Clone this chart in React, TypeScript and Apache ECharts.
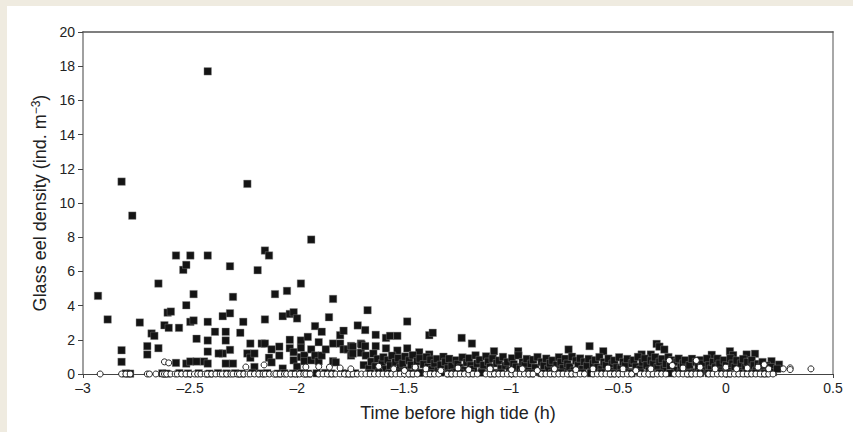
import React, { useEffect, useRef } from "react";
import * as echarts from "echarts";

// Filled squares: sparse upper points
const squaresSparse: [number, number][] = [
  [-2.93, 4.57], [-2.885, 3.19], [-2.82, 11.25], [-2.82, 1.39], [-2.82, 0.71],
  [-2.77, 9.26], [-2.735, 3.01], [-2.70, 1.63], [-2.70, 1.14], [-2.68, 2.37],
  [-2.667, 2.23], [-2.648, 5.29], [-2.648, 1.51], [-2.62, 2.85], [-2.605, 3.59],
  [-2.59, 3.65], [-2.60, 2.70], [-2.566, 6.93], [-2.566, 0.65], [-2.552, 2.70],
  [-2.532, 6.09], [-2.518, 6.38], [-2.518, 4.02], [-2.518, 0.61], [-2.499, 6.93],
  [-2.499, 3.05], [-2.499, 0.73], [-2.484, 4.67], [-2.484, 3.13], [-2.47, 2.06],
  [-2.47, 0.73], [-2.435, 0.73], [-2.418, 17.7], [-2.418, 6.93], [-2.418, 3.05],
  [-2.418, 1.96], [-2.418, 1.31], [-2.418, 0.61], [-2.384, 2.47], [-2.348, 3.38],
  [-2.348, 1.2], [-2.367, 1.2], [-2.334, 2.47], [-2.334, 1.96], [-2.334, 0.61],
  [-2.314, 6.30], [-2.314, 3.55], [-2.314, 1.41], [-2.30, 4.51], [-2.30, 0.61],
  [-2.266, 2.41], [-2.252, 3.05], [-2.233, 11.12], [-2.233, 1.2], [-2.219, 1.78],
  [-2.219, 0.95], [-2.20, 1.2], [-2.20, 0.41], [-2.185, 6.07], [-2.166, 1.78],
  [-2.151, 7.22], [-2.151, 3.19], [-2.151, 1.78], [-2.132, 6.93], [-2.132, 0.95],
  [-2.12, 1.44], [-2.12, 0.68], [-2.104, 4.67], [-2.084, 1.6], [-2.084, 1.08],
  [-2.068, 3.38], [-2.068, 0.32], [-2.048, 4.86], [-2.035, 3.51], [-2.035, 2.0],
  [-2.035, 1.51], [-2.017, 3.61], [-2.017, 1.28], [-2.017, 0.8], [-2.001, 3.25],
  [-2.001, 0.42], [-1.983, 5.29], [-1.983, 1.96], [-1.983, 1.53], [-1.983, 0.99],
  [-1.967, 1.08], [-1.967, 0.75], [-1.951, 2.17], [-1.935, 7.86], [-1.935, 1.44],
  [-1.935, 0.8], [-1.917, 2.80], [-1.917, 1.08], [-1.90, 1.86], [-1.90, 0.75],
  [-1.886, 2.47], [-1.886, 1.08], [-1.867, 1.44], [-1.852, 3.32], [-1.833, 4.39],
  [-1.833, 1.78], [-1.833, 0.75], [-1.82, 0.68], [-1.80, 2.27], [-1.80, 1.78],
  [-1.784, 2.53], [-1.784, 1.44], [-1.765, 1.44], [-1.749, 1.64], [-1.749, 1.08],
  [-1.718, 2.84], [-1.703, 1.78], [-1.683, 2.57], [-1.672, 3.73], [-1.703, 1.24],
  [-1.634, 2.29], [-1.586, 2.11], [-1.567, 2.23], [-1.533, 2.23], [-1.487, 3.07],
  [-1.634, 1.63], [-1.70, 1.72], [-1.683, 1.63], [-1.741, 1.6], [-1.741, 1.2],
  [-1.586, 1.5], [-1.533, 1.37], [-1.487, 1.5], [-1.431, 1.27], [-1.384, 2.27],
  [-1.368, 2.41], [-1.384, 1.14], [-1.233, 2.11], [-1.185, 1.78], [-1.082, 1.33],
  [-0.969, 1.33], [-0.734, 1.43], [-0.636, 1.63], [-0.572, 1.33], [-0.323, 1.76],
  [-0.31, 1.6], [-0.287, 1.43], [-0.393, 1.14], [-0.35, 1.14], [-0.066, 1.12],
  [0.019, 1.33], [0.034, 1.1], [0.097, 1.14], [0.136, 1.18], [0.213, 0.75],
  [0.248, 0.55],
];

// Filled squares: dense low band, estimated
const squaresDense: [number, number][] = [
  [-2.80, 0.03], [-2.78, 0.02], [-2.63, 0.04], [-2.61, 0.02], [-2.55, 0.05], [-2.51, 0.03],
  [-2.46, 0.04], [-2.41, 0.02], [-2.37, 0.05], [-2.33, 0.03], [-2.29, 0.04], [-2.26, 0.02],
  [-2.21, 0.06], [-2.17, 0.03], [-2.14, 0.05], [-2.09, 0.02], [-2.06, 0.04], [-2.02, 0.03],
  [-1.98, 0.05], [-1.95, 0.02], [-1.91, 0.04], [-1.87, 0.06], [-1.84, 0.03], [-1.79, 0.05],
  [-1.76, 0.02], [-1.73, 0.04], [-1.69, 0.52], [-1.68, 1.08], [-1.665, 0.31], [-1.655, 0.72],
  [-1.645, 1.19], [-1.635, 0.44], [-1.625, 0.88], [-1.612, 0.12], [-1.604, 0.63], [-1.598, 0.98],
  [-1.588, 0.27], [-1.577, 0.81], [-1.566, 0.49], [-1.558, 1.07], [-1.548, 0.18], [-1.541, 0.69],
  [-1.528, 0.93], [-1.519, 0.38], [-1.508, 0.61], [-1.497, 1.02], [-1.489, 0.22], [-1.478, 0.79],
  [-1.469, 0.52], [-1.461, 1.1], [-1.449, 0.29], [-1.44, 0.74], [-1.428, 0.91], [-1.421, 0.08],
  [-1.41, 0.57], [-1.397, 0.99], [-1.389, 0.41], [-1.378, 0.83], [-1.371, 0.27], [-1.359, 0.62],
  [-1.348, 0.88], [-1.341, 0.19], [-1.33, 0.53], [-1.318, 1.01], [-1.309, 0.71], [-1.297, 0.32],
  [-1.291, 0.89], [-1.279, 0.47], [-1.268, 0.09], [-1.259, 0.8], [-1.251, 0.58], [-1.238, 0.37],
  [-1.229, 0.97], [-1.218, 0.21], [-1.209, 0.68], [-1.198, 0.92], [-1.19, 0.49], [-1.178, 0.28],
  [-1.168, 1.09], [-1.16, 0.61], [-1.149, 0.82], [-1.138, 0.17], [-1.13, 0.51], [-1.119, 1.03],
  [-1.109, 0.72], [-1.1, 0.39], [-1.088, 0.9], [-1.079, 0.07], [-1.069, 0.63], [-1.058, 0.79],
  [-1.049, 0.31], [-1.04, 1.0], [-1.028, 0.48], [-1.019, 0.7], [-1.009, 0.19], [-0.998, 0.92],
  [-0.99, 0.57], [-0.979, 0.41], [-0.968, 1.08], [-0.96, 0.3], [-0.948, 0.69], [-0.938, 0.52],
  [-0.929, 0.88], [-0.92, 0.18], [-0.909, 0.6], [-0.899, 0.83], [-0.889, 0.37], [-0.879, 0.99],
  [-0.868, 0.1], [-0.86, 0.7], [-0.849, 0.48], [-0.838, 0.9], [-0.829, 0.29], [-0.82, 0.63],
  [-0.809, 0.79], [-0.799, 0.21], [-0.789, 0.52], [-0.779, 0.98], [-0.77, 0.68], [-0.76, 0.33],
  [-0.749, 0.89], [-0.739, 0.6], [-0.729, 0.41], [-0.718, 1.01], [-0.709, 0.19], [-0.699, 0.78],
  [-0.689, 0.5], [-0.68, 0.91], [-0.669, 0.28], [-0.66, 0.71], [-0.648, 0.47], [-0.64, 0.88],
  [-0.628, 0.11], [-0.619, 0.61], [-0.609, 0.81], [-0.598, 0.39], [-0.59, 0.99], [-0.58, 0.29],
  [-0.569, 0.69], [-0.559, 0.51], [-0.548, 0.9], [-0.538, 0.2], [-0.529, 0.6], [-0.52, 0.79],
  [-0.509, 0.38], [-0.498, 0.98], [-0.49, 0.31], [-0.479, 0.7], [-0.469, 0.49], [-0.46, 0.88],
  [-0.449, 0.12], [-0.438, 0.62], [-0.43, 0.8], [-0.419, 0.42], [-0.41, 1.0], [-0.398, 0.28],
  [-0.389, 0.68], [-0.378, 0.9], [-0.369, 0.5], [-0.358, 0.18], [-0.349, 0.79], [-0.338, 0.59],
  [-0.33, 0.98], [-0.318, 0.4], [-0.309, 0.71], [-0.298, 0.88], [-0.289, 0.31], [-0.279, 0.6],
  [-0.268, 0.99], [-0.259, 0.48], [-0.249, 0.8], [-0.239, 0.22], [-0.228, 0.7], [-0.22, 0.9],
  [-0.209, 0.39], [-0.199, 0.61], [-0.19, 0.8], [-0.179, 0.29], [-0.169, 0.51], [-0.158, 0.89],
  [-0.149, 0.11], [-0.139, 0.7], [-0.128, 0.4], [-0.119, 0.81], [-0.109, 0.59], [-0.099, 0.2],
  [-0.088, 0.9], [-0.079, 0.5], [-0.069, 0.31], [-0.059, 0.7], [-0.049, 0.38], [-0.039, 0.9],
  [-0.029, 0.6], [-0.019, 0.19], [-0.009, 0.8], [0.002, 0.5], [0.011, 0.29], [0.021, 0.91],
  [0.031, 0.6], [0.042, 0.41], [0.051, 0.79], [0.062, 0.2], [0.071, 0.61], [0.081, 0.88],
  [0.092, 0.39], [0.101, 0.7], [0.112, 0.3], [0.121, 0.8], [0.131, 0.5], [0.142, 0.19],
  [0.151, 0.59], [0.162, 0.41], [0.171, 0.7], [0.181, 0.28], [0.191, 0.49], [0.2, 0.2],
  [0.211, 0.4], [0.22, 0.1], [0.24, 0.3],
  [-1.66, 0.05], [-1.62, 0.08], [-1.57, 0.04], [-1.52, 0.07], [-1.47, 0.03], [-1.43, 0.06],
  [-1.38, 0.04], [-1.33, 0.08], [-1.29, 0.03], [-1.24, 0.06], [-1.19, 0.04], [-1.14, 0.07],
  [-1.09, 0.03], [-1.05, 0.06], [-1.0, 0.04], [-0.95, 0.07], [-0.91, 0.03], [-0.86, 0.05],
  [-0.81, 0.04], [-0.77, 0.07], [-0.72, 0.03], [-0.67, 0.06], [-0.63, 0.04], [-0.58, 0.07],
  [-0.53, 0.03], [-0.49, 0.05], [-0.44, 0.04], [-0.4, 0.07], [-0.35, 0.03], [-0.31, 0.06],
  [-0.26, 0.04], [-0.21, 0.07], [-0.17, 0.03], [-0.12, 0.05], [-0.08, 0.04], [-0.03, 0.06],
  [0.01, 0.03], [0.06, 0.05], [0.1, 0.04], [0.14, 0.06], [0.18, 0.03],
];

// Open circles lying on zero
const circlesZeroX: number[] = [
  -2.92, -2.82, -2.80, -2.78, -2.70, -2.69, -2.66, -2.63, -2.62, -2.61, -2.59, -2.57, -2.56,
  -2.54, -2.52, -2.50, -2.48, -2.465, -2.45, -2.43, -2.42, -2.40, -2.38, -2.36, -2.35, -2.33,
  -2.31, -2.30, -2.28, -2.27, -2.25, -2.23, -2.22, -2.20, -2.18, -2.16, -2.15, -2.13, -2.11,
  -2.10, -2.08, -2.06, -2.05, -2.03, -2.01, -1.99, -1.97, -1.96, -1.94, -1.90, -1.88, -1.86,
  -1.84, -1.82, -1.80, -1.78, -1.76, -1.74, -1.72, -1.70, -1.68, -1.66, -1.64, -1.62, -1.60,
  -1.58, -1.56, -1.54, -1.52, -1.50, -1.48, -1.46, -1.44, -1.40, -1.38, -1.36, -1.34, -1.30,
  -1.28, -1.26, -1.24, -1.22, -1.20, -1.18, -1.16, -1.12, -1.10, -1.08, -1.06, -1.04, -1.02,
  -1.00, -0.98, -0.96, -0.94, -0.92, -0.90, -0.86, -0.84, -0.82, -0.80, -0.78, -0.76, -0.74,
  -0.72, -0.70, -0.68, -0.66, -0.62, -0.60, -0.58, -0.56, -0.54, -0.52, -0.50, -0.48, -0.46,
  -0.44, -0.40, -0.38, -0.36, -0.34, -0.32, -0.30, -0.28, -0.24, -0.22, -0.20, -0.18, -0.16,
  -0.14, -0.12, -0.08, -0.06, -0.04, -0.02, 0.00, 0.02, 0.04, 0.06, 0.08, 0.10, 0.12, 0.14,
  0.16, 0.18, 0.20, 0.22,
];

// Open circles above zero
const circlesAbove: [number, number][] = [
  [-2.62, 0.71], [-2.60, 0.65], [-2.24, 0.41], [-2.155, 0.53], [-1.96, 0.41], [-1.90, 0.43],
  [-1.85, 0.4], [-1.80, 0.35], [-1.75, 0.3], [-1.62, 0.45], [-1.55, 0.3], [-1.5, 0.2],
  [-1.45, 0.4], [-1.40, 0.3], [-1.33, 0.2], [-1.25, 0.35], [-1.2, 0.25], [-1.1, 0.3],
  [-1.0, 0.25], [-0.95, 0.3], [-0.88, 0.2], [-0.8, 0.3], [-0.7, 0.25], [-0.62, 0.3],
  [-0.55, 0.35], [-0.48, 0.3], [-0.42, 0.2], [-0.35, 0.3], [-0.264, 0.79], [-0.25, 0.5],
  [-0.2, 0.35], [-0.138, 0.79], [-0.12, 0.4], [-0.05, 0.3], [0.0, 0.4], [0.05, 0.3],
  [0.1, 0.35], [0.15, 0.4], [0.179, 0.55], [0.2, 0.3], [0.268, 0.3], [0.30, 0.36],
  [0.30, 0.26], [0.397, 0.3],
];

const xName = "Time before high tide (h)";
const yName = "Glass eel density (ind. m{sup|−3})";

export default function App() {
  const ref = useRef<HTMLDivElement>(null);
  useEffect(() => {
    document.body.style.margin = "0";
    if (!ref.current) return;
    const chart = echarts.init(ref.current, undefined, { renderer: "svg" });
    const font = "Liberation Sans, Arial, Helvetica, sans-serif";
    chart.setOption({
      animation: false,
      backgroundColor: "#ffffff",
      textStyle: { fontFamily: font },
      grid: { left: 76, right: 20, top: 26, bottom: 58 },
      xAxis: [
        {
          type: "value",
          min: -3,
          max: 0.5,
          interval: 0.5,
          name: xName,
          nameLocation: "middle",
          nameGap: 30,
          nameTextStyle: { fontSize: 18, color: "#222", fontFamily: font },
          axisLine: { show: true, onZero: false, lineStyle: { color: "#444", width: 1 } },
          axisTick: { show: true, inside: false, length: 4, lineStyle: { color: "#444" } },
          axisLabel: {
            fontSize: 14,
            color: "#222",
            margin: 7,
            formatter: (v: number) => (v < 0 ? "–" + Math.abs(v) : String(v)),
          },
          splitLine: { show: false },
        },
        {
          type: "value",
          position: "top",
          min: -3,
          max: 0.5,
          axisLine: { show: true, onZero: false, lineStyle: { color: "#555", width: 1.5 } },
          axisTick: { show: false },
          axisLabel: { show: false },
          splitLine: { show: false },
        },
      ],
      yAxis: [
        {
          type: "value",
          min: 0,
          max: 20,
          interval: 2,
          name: yName,
          nameLocation: "middle",
          nameGap: 32,
          nameTextStyle: {
            fontSize: 18,
            color: "#222",
            fontFamily: font,
            rich: { sup: { fontSize: 12, verticalAlign: "top", color: "#222", padding: [0, 0, 8, 0] } },
          },
          axisLine: { show: true, onZero: false, lineStyle: { color: "#a0a0a0", width: 2 } },
          axisTick: { show: true, inside: false, length: 5, lineStyle: { color: "#444" } },
          axisLabel: { fontSize: 14, color: "#222", margin: 8 },
          splitLine: { show: false },
        },
        {
          type: "value",
          position: "right",
          min: 0,
          max: 20,
          axisLine: { show: true, onZero: false, lineStyle: { color: "#a8a8a8", width: 2 } },
          axisTick: { show: false },
          axisLabel: { show: false },
          splitLine: { show: false },
        },
      ],
      series: [
        {
          type: "scatter",
          name: "squares",
          symbol: "rect",
          symbolSize: 7.5,
          data: [...squaresSparse, ...squaresDense],
          itemStyle: { color: "#141414", borderColor: "#8a8a8a", borderWidth: 0.4, opacity: 1 },
          z: 2,
        },
        {
          type: "scatter",
          name: "circles",
          symbol: "circle",
          symbolSize: 6,
          data: [...circlesZeroX.map((x) => [x, 0]), ...circlesAbove],
          itemStyle: { color: "#ffffff", borderColor: "#222", borderWidth: 1, opacity: 1 },
          z: 3,
        },
      ],
    });
    return () => chart.dispose();
  }, []);
  return (
    <div style={{ position: "relative", width: 853, height: 432, background: "#efebe0" }}>
      <div
        ref={ref}
        style={{ position: "absolute", left: 7, top: 6, width: 846, height: 426 }}
      />
    </div>
  );
}
